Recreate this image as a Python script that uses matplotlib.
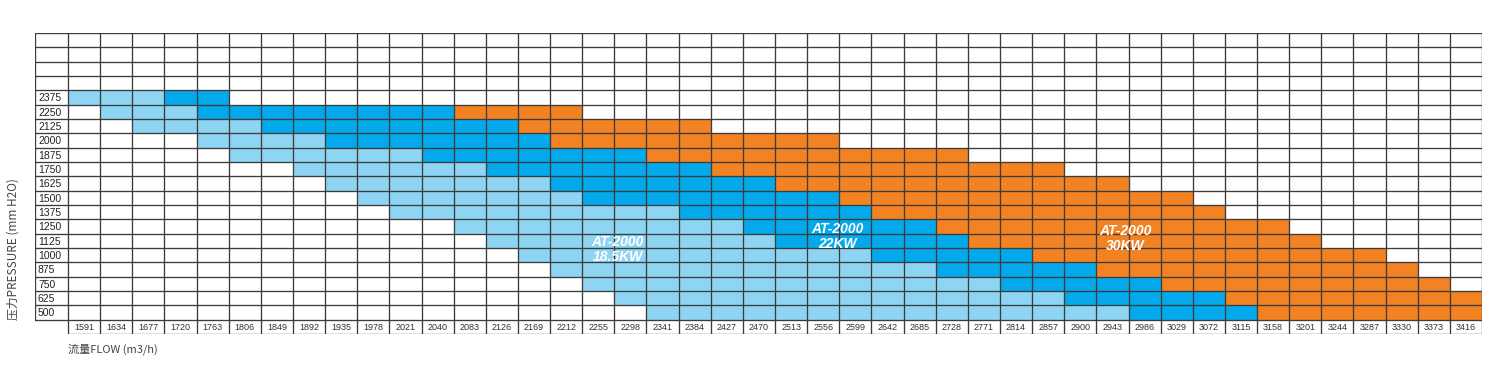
import matplotlib
matplotlib.use('Agg')
import matplotlib.pyplot as plt
from matplotlib.patches import Rectangle

# flow columns (m3/h) and pressure rows (mm H2O)
flows = [1591, 1634, 1677, 1720, 1763, 1806, 1849, 1892, 1935, 1978, 2021, 2040,
         2083, 2126, 2169, 2212, 2255, 2298, 2341, 2384, 2427, 2470, 2513, 2556,
         2599, 2642, 2685, 2728, 2771, 2814, 2857, 2900, 2943, 2986, 3029, 3072,
         3115, 3158, 3201, 3244, 3287, 3330, 3373, 3416]
pressures = [2375, 2250, 2125, 2000, 1875, 1750, 1625, 1500, 1375, 1250,
             1125, 1000, 875, 750, 625, 500]

# (first flow, last flow) covered by each model at each pressure row
kw18_5 = [(1591, 1677), (1634, 1720), (1677, 1806), (1763, 1892), (1806, 2021),
          (1892, 2083), (1935, 2169), (1978, 2212), (2021, 2341), (2083, 2427),
          (2126, 2470), (2169, 2599), (2212, 2685), (2255, 2771), (2298, 2857),
          (2341, 2943)]
kw22 = [(1720, 1763), (1763, 2040), (1849, 2126), (1935, 2169), (2040, 2298),
        (2126, 2384), (2212, 2470), (2255, 2556), (2384, 2599), (2470, 2685),
        (2513, 2728), (2642, 2814), (2728, 2900), (2814, 2986), (2900, 3072),
        (2986, 3115)]
kw30 = [None, (2083, 2212), (2169, 2384), (2212, 2556), (2341, 2728),
        (2427, 2857), (2513, 2943), (2599, 3029), (2642, 3072), (2728, 3158),
        (2771, 3201), (2857, 3287), (2943, 3330), (3029, 3373), (3115, 3416),
        (3158, 3416)]

models = [(kw18_5, '#8ed5f4', 'AT-2000\n18.5KW'),
          (kw22, '#03a9ea', 'AT-2000\n22KW'),
          (kw30, '#f28222', 'AT-2000\n30KW')]

W, H = 1500, 374
fig = plt.figure(figsize=(W / 100, H / 100), dpi=100)
col_w = (1482 - 68) / len(flows)
lab_w = (68 - 35) / col_w
ax = fig.add_axes([35 / W, 1 - 334 / H, (1482 - 35) / W, (334 - 33) / H])
ax.set_xlim(-lab_w, len(flows))
n_top = 4
n_rows = n_top + len(pressures) + 1
ax.set_ylim(n_rows, 0)
ax.axis('off')

# coloured cells
for ranges, color, _ in models:
    for i, r in enumerate(ranges):
        if r is None:
            continue
        a, b = flows.index(r[0]), flows.index(r[1])
        ax.add_patch(Rectangle((a, n_top + i), b - a + 1, 1, facecolor=color,
                               edgecolor='none', zorder=1))

# grid lines
lc, lw = '#3c3c3c', 0.95
for k in range(n_rows):
    ax.plot([-lab_w, len(flows)], [k, k], color=lc, lw=lw, zorder=2)
ax.plot([0, len(flows)], [n_rows, n_rows], color=lc, lw=lw, zorder=2)
ax.plot([-lab_w, -lab_w], [0, n_rows - 1], color=lc, lw=lw, zorder=2)
for c in range(len(flows) + 1):
    ax.plot([c, c], [0, n_rows], color=lc, lw=lw, zorder=2)

# labels
for i, p in enumerate(pressures):
    ax.text(-lab_w + 3 / col_w, n_top + i + 0.55, str(p), ha='left', va='center',
            fontsize=7.5, family='Liberation Sans', color='#222222')
for c, f in enumerate(flows):
    ax.text(c + 0.5, n_rows - 0.45, str(f), ha='center', va='center',
            fontsize=6.5, family='Liberation Sans', color='#333333')

# model names
name_pos = [(17.1, 15.1), (23.95, 14.2), (32.9, 14.35)]
for (ranges, color, name), (x, y) in zip(models, name_pos):
    ax.text(x, y, name, ha='center', va='center', color='white', fontsize=10,
            family='Liberation Sans', weight='bold', style='italic',
            linespacing=1.05, multialignment='center', zorder=3)

fig.text(13 / W, 1 - 320 / H, '压力PRESSURE (mm H2O)', rotation=90,
         rotation_mode='anchor', ha='left', va='center', fontsize=8.5,
         family=['Noto Sans CJK SC', 'DejaVu Sans'], color='#444444')
fig.text(68 / W, 1 - 349 / H, '流量FLOW (m3/h)', ha='left', va='center',
         fontsize=8, family=['Noto Sans CJK SC', 'DejaVu Sans'], color='#444444')

fig.savefig('out.png', dpi=100, facecolor='white')
